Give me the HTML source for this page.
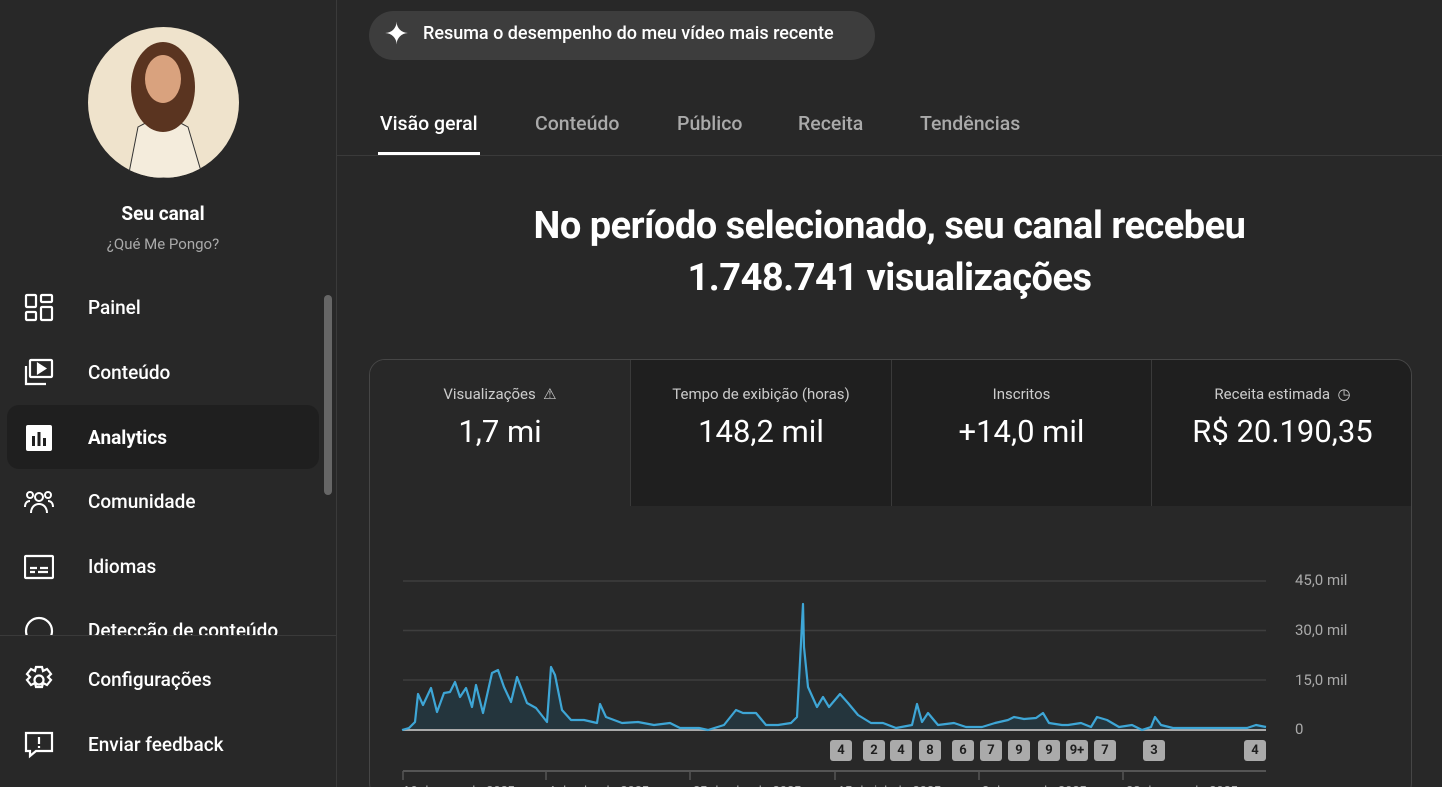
<!DOCTYPE html>
<html style="width:1442px;height:787px;overflow:hidden"><head><meta charset="utf-8"><style>
*{margin:0;padding:0;box-sizing:border-box}
body{width:1442px;height:787px;overflow:hidden;background:#282828;font-family:"Roboto","Liberation Sans",sans-serif;color:#fff;position:relative}
.side{position:absolute;left:0;top:0;width:337px;height:787px;border-right:1px solid #3a3a3a;background:#282828}
.av{position:absolute;left:88px;top:27px;width:151px;height:151px;border-radius:50%;background:#efe3cc;overflow:hidden}
.nm{position:absolute;left:0;width:326px;text-align:center}
.item{position:absolute;left:88px;font-size:19px;font-weight:500}
.ic{position:absolute;left:24px;width:30px;height:30px}
.sel{position:absolute;left:7px;top:405px;width:312px;height:64px;background:#1f1f1f;border-radius:12px}
.tab{position:absolute;top:112px;font-size:19.5px;font-weight:500;color:#aaa}
.card{position:absolute;left:369px;top:359px;width:1043px;height:440px;border:1px solid #464646;border-radius:16px;overflow:hidden}
.m{position:absolute;top:0;height:146px;text-align:center;background:#1f1f1f;border-left:1px solid #3a3a3a}
.m .l{margin-top:25px;font-size:15px;color:#ccc}
.m .v{margin-top:10px;font-size:31px}
.b{position:absolute;top:740px;width:22px;height:21px;background:#aaa;color:#1f1f1f;font-size:13px;font-weight:bold;text-align:center;line-height:21px;border-radius:3px}
.yl{position:absolute;left:1295px;font-size:15px;color:#aaa}
</style></head><body>
<div class="side">
<div class="av"><svg width="151" height="151"><path d="M40 151 L50 100 Q75 85 100 100 L115 151Z" fill="#f4ecdc" stroke="#333"/><ellipse cx="75" cy="60" rx="32" ry="45" fill="#5a3420"/><ellipse cx="75" cy="52" rx="18" ry="24" fill="#d9a27e"/></svg></div>
<div class="nm" style="top:202px;font-size:19px;font-weight:bold">Seu canal</div>
<div class="nm" style="top:235px;font-size:15px;color:#aaa">¿Qué Me Pongo?</div>
<div style="position:absolute;left:324px;top:295px;width:8px;height:200px;background:#666;border-radius:4px"></div>
<div class="sel"></div>
<svg class="ic" style="top:293px" viewBox="0 0 30 30" fill="none" stroke="#fff" stroke-width="2.2"><rect x="2" y="2" width="10" height="12" rx="1"/><rect x="17" y="2" width="11" height="7" rx="1"/><rect x="2" y="19" width="10" height="8" rx="1"/><rect x="17" y="14" width="11" height="13" rx="1"/></svg>
<div class="item" style="top:296px">Painel</div>
<svg class="ic" style="top:358px" viewBox="0 0 30 30" fill="none" stroke="#fff" stroke-width="2.2"><rect x="6" y="2" width="22" height="17" rx="1"/><path d="M2 8v18h20"/><path d="M14 6l7 4.5-7 4.5z" fill="#fff"/></svg>
<div class="item" style="top:361px">Conteúdo</div>
<svg class="ic" style="top:423px" viewBox="0 0 30 30"><rect x="2" y="2" width="26" height="26" rx="2" fill="#fff"/><rect x="8" y="13" width="3" height="10" fill="#1f1f1f"/><rect x="13.5" y="9" width="3" height="14" fill="#1f1f1f"/><rect x="19" y="15" width="3" height="8" fill="#1f1f1f"/></svg>
<div class="item" style="top:426px;font-weight:bold">Analytics</div>
<svg class="ic" style="top:487px" viewBox="0 0 30 30" fill="none" stroke="#fff" stroke-width="2"><circle cx="15" cy="10" r="4"/><circle cx="6" cy="8" r="3"/><circle cx="24" cy="8" r="3"/><path d="M7 26c0-6 4-9 8-9s8 3 8 9M1 20c0-4 2-6 5-6M29 20c0-4-2-6-5-6"/></svg>
<div class="item" style="top:490px">Comunidade</div>
<svg class="ic" style="top:552px" viewBox="0 0 30 30" fill="none" stroke="#fff" stroke-width="2.2"><rect x="1" y="4" width="28" height="22" rx="1"/><path d="M6 16h7M16 16h8M6 20h5M14 20h10"/></svg>
<div class="item" style="top:555px">Idiomas</div>
<div style="position:absolute;left:0;top:600px;width:337px;height:35px;overflow:hidden"><div class="item" style="top:19px">Detecção de conteúdo</div><svg class="ic" style="top:16px" viewBox="0 0 30 30" fill="none" stroke="#fff" stroke-width="2.2"><circle cx="15" cy="15" r="13"/></svg></div>
<div style="position:absolute;left:0;top:635px;width:337px;border-top:1px solid #3a3a3a"></div>
<svg class="ic" style="top:665px" viewBox="0 0 30 30" fill="none" stroke="#fff" stroke-width="2.2"><circle cx="15" cy="15" r="4.5"/><path d="M12 2h6l1 4 4-2 4 5-3 3 0 0 3 3-4 5-4-2-1 4h-6l-1-4-4 2-4-5 3-3-3-3 4-5 4 2z"/></svg>
<div class="item" style="top:668px">Configurações</div>
<svg class="ic" style="top:730px" viewBox="0 0 30 30" fill="none" stroke="#fff" stroke-width="2.2"><path d="M2 3h26v18H12l-6 5v-5H2z"/><path d="M15 7v7M15 16v2"/></svg>
<div class="item" style="top:733px">Enviar feedback</div>
</div>
<div style="position:absolute;left:369px;top:11px;width:506px;height:49px;background:#3d3d3d;border-radius:25px"></div>
<div style="position:absolute;left:384px;top:20px;font-size:30px;line-height:30px">✦</div>
<div style="position:absolute;left:423px;top:23px;font-size:18px;font-weight:500">Resuma o desempenho do meu vídeo mais recente</div>
<div class="tab" style="left:380px;color:#fff">Visão geral</div>
<div style="position:absolute;left:378px;top:152px;width:102px;height:3px;background:#fff"></div>
<div class="tab" style="left:535px">Conteúdo</div>
<div class="tab" style="left:677px">Público</div>
<div class="tab" style="left:798px">Receita</div>
<div class="tab" style="left:920px">Tendências</div>
<div style="position:absolute;left:337px;top:155px;width:1105px;border-top:1px solid #3a3a3a"></div>
<div style="position:absolute;left:337px;top:200px;width:1105px;text-align:center;font-size:38px;font-weight:bold;line-height:52px;letter-spacing:-0.5px">No período selecionado, seu canal recebeu<br>1.748.741 visualizações</div>
<div class="card">
<div class="m" style="left:0;width:260px;background:#282828;border-left:none"><div class="l">Visualizações &nbsp;⚠</div><div class="v">1,7 mi</div></div>
<div class="m" style="left:260px;width:261px"><div class="l">Tempo de exibição (horas)</div><div class="v">148,2 mil</div></div>
<div class="m" style="left:521px;width:260px"><div class="l">Inscritos</div><div class="v">+14,0 mil</div></div>
<div class="m" style="left:781px;width:262px"><div class="l">Receita estimada &nbsp;◷</div><div class="v">R$ 20.190,35</div></div>
</div>
<svg style="position:absolute;left:0;top:0" width="1442" height="787">
<g stroke="#3e3e3e" stroke-width="1.5"><line x1="403" y1="581" x2="1266" y2="581"/><line x1="403" y1="630.5" x2="1266" y2="630.5"/><line x1="403" y1="680" x2="1266" y2="680"/></g>
<polygon fill="#24353d" points="402,730 409,728 415,722 418,694 423,705 431,688 437,712 444,693 450,692 455,682 460,697 466,688 472,707 476,685 483,713 492,673 498,670 504,687 511,702 517,677 527,703 536,708 547,722 551,667 555,675 562,710 571,720 584,720 597,723 600,704 606,717 622,723 638,722 654,725 670,723 680,728 699,728 708,730 724,725 736,710 743,713 756,713 766,725 778,725 791,723 797,717 801,643 803,604 804,647 808,687 817,707 823,697 829,707 840,694 848,703 858,715 871,723 883,723 896,728 912,725 917,704 922,722 928,713 938,725 954,723 966,727 982,727 995,723 1008,720 1014,717 1024,719 1036,718 1043,713 1049,723 1062,725 1068,725 1081,723 1091,727 1097,717 1107,720 1119,727 1132,725 1142,730 1151,727 1155,717 1161,725 1173,728 1209,728 1247,728 1256,725 1266,727 1266,730"/>
<line x1="403" y1="730" x2="1266" y2="730" stroke="#aaa" stroke-width="2"/>
<polyline fill="none" stroke="#3ea6d6" stroke-width="2.2" stroke-linejoin="round" points="402,730 409,728 415,722 418,694 423,705 431,688 437,712 444,693 450,692 455,682 460,697 466,688 472,707 476,685 483,713 492,673 498,670 504,687 511,702 517,677 527,703 536,708 547,722 551,667 555,675 562,710 571,720 584,720 597,723 600,704 606,717 622,723 638,722 654,725 670,723 680,728 699,728 708,730 724,725 736,710 743,713 756,713 766,725 778,725 791,723 797,717 801,643 803,604 804,647 808,687 817,707 823,697 829,707 840,694 848,703 858,715 871,723 883,723 896,728 912,725 917,704 922,722 928,713 938,725 954,723 966,727 982,727 995,723 1008,720 1014,717 1024,719 1036,718 1043,713 1049,723 1062,725 1068,725 1081,723 1091,727 1097,717 1107,720 1119,727 1132,725 1142,730 1151,727 1155,717 1161,725 1173,728 1209,728 1247,728 1256,725 1266,727"/>
<line x1="403" y1="771" x2="1266" y2="771" stroke="#555" stroke-width="2"/>
<g stroke="#555" stroke-width="1.5"><line x1="403" y1="771" x2="403" y2="780"/><line x1="546" y1="771" x2="546" y2="780"/><line x1="690" y1="771" x2="690" y2="780"/><line x1="835" y1="771" x2="835" y2="780"/><line x1="979" y1="771" x2="979" y2="780"/><line x1="1123" y1="771" x2="1123" y2="780"/></g>
<g fill="#aaa" font-size="13" font-family="Liberation Sans,sans-serif"><text x="403" y="795">16 de mar. de 2025</text><text x="548" y="795">4 de abr. de 2025</text><text x="693" y="795">25 de abr. de 2025</text><text x="838" y="795">15 de jul. de 2025</text><text x="982" y="795">3 de ago. de 2025</text><text x="1126" y="795">28 de ago. de 2025</text></g>
</svg>
<div class="yl" style="top:571px">45,0 mil</div>
<div class="yl" style="top:621px">30,0 mil</div>
<div class="yl" style="top:671px">15,0 mil</div>
<div class="yl" style="top:720px">0</div>
<div class="b" style="left:830px">4</div><div class="b" style="left:863px">2</div><div class="b" style="left:890px">4</div><div class="b" style="left:919px">8</div><div class="b" style="left:952px">6</div><div class="b" style="left:980px">7</div><div class="b" style="left:1008px">9</div><div class="b" style="left:1038px">9</div><div class="b" style="left:1066px">9+</div><div class="b" style="left:1094px">7</div><div class="b" style="left:1143px">3</div><div class="b" style="left:1244px">4</div>
</body></html>
